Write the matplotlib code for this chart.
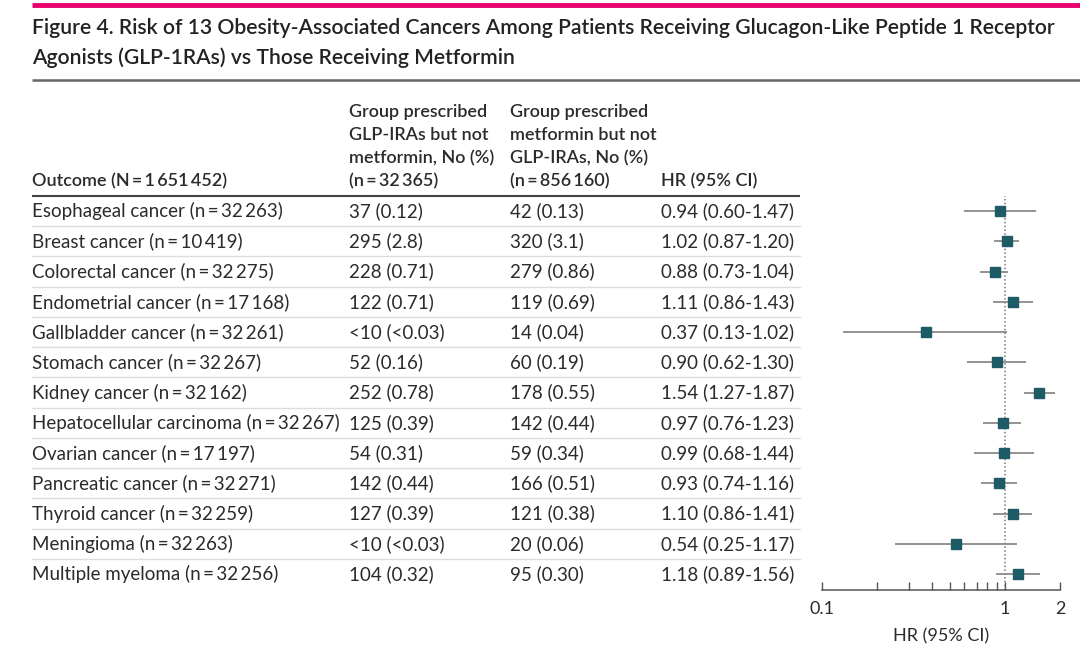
import numpy as np
import matplotlib
matplotlib.use('Agg')
import matplotlib.pyplot as plt

# data
outcomes = ['Esophageal cancer (n\u2009=\u200932\u2009263)',
            'Breast cancer (n\u2009=\u200910\u2009419)',
            'Colorectal cancer (n\u2009=\u200932\u2009275)',
            'Endometrial cancer (n\u2009=\u200917\u2009168)',
            'Gallbladder cancer (n\u2009=\u200932\u2009261)',
            'Stomach cancer (n\u2009=\u200932\u2009267)',
            'Kidney cancer (n\u2009=\u200932\u2009162)',
            'Hepatocellular carcinoma (n\u2009=\u200932\u2009267)',
            'Ovarian cancer (n\u2009=\u200917\u2009197)',
            'Pancreatic cancer (n\u2009=\u200932\u2009271)',
            'Thyroid cancer (n\u2009=\u200932\u2009259)',
            'Meningioma (n\u2009=\u200932\u2009263)',
            'Multiple myeloma (n\u2009=\u200932\u2009256)']
glp_counts = ['37 (0.12)', '295 (2.8)', '228 (0.71)', '122 (0.71)', '<10 (<0.03)',
              '52 (0.16)', '252 (0.78)', '125 (0.39)', '54 (0.31)', '142 (0.44)',
              '127 (0.39)', '<10 (<0.03)', '104 (0.32)']
met_counts = ['42 (0.13)', '320 (3.1)', '279 (0.86)', '119 (0.69)', '14 (0.04)',
              '60 (0.19)', '178 (0.55)', '142 (0.44)', '59 (0.34)', '166 (0.51)',
              '121 (0.38)', '20 (0.06)', '95 (0.30)']
hr = np.array([0.94, 1.02, 0.88, 1.11, 0.37, 0.90, 1.54, 0.97, 0.99, 0.93, 1.10, 0.54, 1.18])
ci_lo = np.array([0.60, 0.87, 0.73, 0.86, 0.13, 0.62, 1.27, 0.76, 0.68, 0.74, 0.86, 0.25, 0.89])
ci_hi = np.array([1.47, 1.20, 1.04, 1.43, 1.02, 1.30, 1.87, 1.23, 1.44, 1.16, 1.41, 1.17, 1.56])
x_ticks = [0.1, 1, 2]
x_ticklabels = ['0.1', '1', '2']

title = ('Figure 4. Risk of 13 Obesity-Associated Cancers Among Patients Receiving Glucagon-Like Peptide 1 Receptor\n'
         'Agonists (GLP-1RAs) vs Those Receiving Metformin')
col_heads = ['Outcome (N\u2009=\u20091\u2009651\u2009452)',
             'Group prescribed\nGLP-IRAs but not\nmetformin, No (%)\n(n\u2009=\u200932\u2009365)',
             'Group prescribed\nmetformin but not\nGLP-IRAs, No (%)\n(n\u2009=\u2009856\u2009160)',
             'HR (95% CI)']

plt.rcParams['font.family'] = ['Lato', 'DejaVu Sans']
W, H = 1080, 662
fig = plt.figure(figsize=(W / 100, H / 100), dpi=100)

# full-figure canvas in pixel coordinates for the table part
bg = fig.add_axes([0, 0, 1, 1])
bg.set_xlim(0, W)
bg.set_ylim(H, 0)
bg.axis('off')

txt_col = '#2b2b2b'
bg.plot([32, W], [5, 5], color='#e8006f', lw=3.5, solid_capstyle='butt')
bg.text(32, 43, title, fontsize=15.2, fontweight='semibold', color='#222222',
        va='center', ha='left', linespacing=1.58)
bg.plot([32, W], [80, 80], color='#666666', lw=1.8, solid_capstyle='butt')

col_x = [32, 349, 510, 661]
for x, head in zip(col_x, col_heads):
    bg.text(x, 189, head, fontsize=13, fontweight='semibold', color=txt_col,
            va='bottom', ha='left', linespacing=1.52)
bg.plot([32, 800], [196, 196], color='#444444', lw=1.5, solid_capstyle='butt')

row0, dy = 211, 30.25
n = len(outcomes)
for i in range(n):
    y = row0 + i * dy
    hr_txt = '%.2f (%.2f-%.2f)' % (hr[i], ci_lo[i], ci_hi[i])
    for x, s in zip(col_x, [outcomes[i], glp_counts[i], met_counts[i], hr_txt]):
        bg.text(x, y, s, fontsize=13.5, color=txt_col, va='center', ha='left')
    if i < n - 1:
        bg.plot([32, 800], [y + dy / 2, y + dy / 2], color='#dddddd', lw=1)

# forest plot
left, right = 822, 1060
top, bottom = 196, 590
fax = fig.add_axes([left / W, 1 - bottom / H, (right - left) / W, (bottom - top) / H])
fax.set_xscale('log')
fax.set_xlim(0.1, 2)
fax.set_ylim(n - 1 + (bottom - (row0 + (n - 1) * dy)) / dy, -0.5)
rows = np.arange(n)
fax.hlines(rows, ci_lo, ci_hi, color='#8a8a8a', lw=1.3, zorder=2)
fax.plot(hr, rows, 's', color='#1d5b66', ms=7.5, zorder=3)
fax.axvline(1, color='#777777', lw=1.1, ls=(0, (1, 1.5)), zorder=1)
fax.patch.set_alpha(0)
for s in ['top', 'right', 'left']:
    fax.spines[s].set_visible(False)
fax.spines['bottom'].set_color('#555555')
fax.spines['bottom'].set_linewidth(1.1)
fax.set_yticks([])
fax.set_xticks(x_ticks)
fax.set_xticklabels(x_ticklabels)
fax.set_xticks([0.2, 0.3, 0.4, 0.5, 0.6, 0.7, 0.8, 0.9], minor=True)
fax.xaxis.set_minor_formatter(matplotlib.ticker.NullFormatter())
fax.tick_params(axis='x', which='both', direction='in', length=6, width=1,
                color='#555555', labelsize=13, labelcolor=txt_col, pad=8)
fax.set_xlabel('HR (95% CI)', fontsize=13, color=txt_col, labelpad=8)

fig.savefig('out.png', dpi=100)
